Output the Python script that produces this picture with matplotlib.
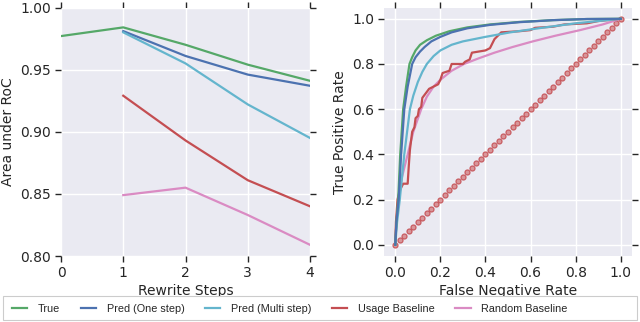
import numpy as np
import matplotlib
matplotlib.use('Agg')
import matplotlib.pyplot as plt
from matplotlib.patches import Rectangle

# seaborn-ish darkgrid look, done by hand
plt.rcParams['font.family'] = ['DejaVu Sans']
plt.rcParams['axes.facecolor'] = '#EAEAF2'
plt.rcParams['axes.edgecolor'] = 'white'
plt.rcParams['axes.linewidth'] = 0
plt.rcParams['grid.color'] = 'white'
plt.rcParams['grid.linewidth'] = 1.0
plt.rcParams['text.color'] = '#262626'
plt.rcParams['axes.labelcolor'] = '#262626'
plt.rcParams['xtick.color'] = '#262626'
plt.rcParams['ytick.color'] = '#262626'

# ---- data: left panel (AUC vs rewrite steps)
steps_true = [0, 1, 2, 3, 4]
auc_true = [0.977, 0.984, 0.970, 0.954, 0.941]
steps = [1, 2, 3, 4]
auc_pred_one = [0.981, 0.961, 0.946, 0.937]
auc_pred_multi = [0.980, 0.955, 0.922, 0.895]
auc_usage = [0.929, 0.893, 0.861, 0.840]
auc_random = [0.849, 0.855, 0.833, 0.809]

# ---- data: right panel (ROC curves)
fpr_true = [0, 0.005, 0.013, 0.022, 0.035, 0.048, 0.063, 0.075, 0.09, 0.11, 0.14, 0.18, 0.24, 0.32, 0.42, 0.55, 0.7, 0.85, 1.0]
tpr_true = [0, 0.1, 0.2, 0.4, 0.6, 0.7, 0.8, 0.83, 0.86, 0.885, 0.905, 0.925, 0.945, 0.962, 0.975, 0.986, 0.994, 0.999, 1.0]
fpr_one = [0, 0.005, 0.015, 0.026, 0.04, 0.055, 0.075, 0.09, 0.11, 0.13, 0.16, 0.2, 0.25, 0.32, 0.42, 0.55, 0.7, 0.85, 1.0]
tpr_one = [0, 0.1, 0.2, 0.4, 0.6, 0.7, 0.8, 0.83, 0.855, 0.875, 0.9, 0.92, 0.94, 0.958, 0.973, 0.985, 0.994, 0.999, 1.0]
fpr_multi = [0, 0.008, 0.02, 0.04, 0.065, 0.08, 0.1, 0.12, 0.14, 0.17, 0.2, 0.25, 0.3, 0.4, 0.51, 0.65, 0.8, 0.9, 1.0]
tpr_multi = [0, 0.1, 0.2, 0.4, 0.6, 0.66, 0.72, 0.765, 0.8, 0.835, 0.86, 0.885, 0.9, 0.92, 0.94, 0.96, 0.98, 0.99, 1.0]
fpr_usage = [0, 0.003, 0.01, 0.02, 0.035, 0.055, 0.06, 0.065, 0.075, 0.085, 0.09, 0.1, 0.105, 0.115,
             0.12, 0.135, 0.15, 0.17, 0.19, 0.2, 0.21, 0.24, 0.25, 0.3, 0.31, 0.33, 0.34, 0.4, 0.42,
             0.43, 0.44, 0.46, 0.47, 0.55, 0.6, 0.62, 0.7, 0.75, 0.85, 0.9, 1.0]
tpr_usage = [0, 0.1, 0.2, 0.24, 0.27, 0.27, 0.35, 0.42, 0.5, 0.52, 0.56, 0.57, 0.6, 0.61,
             0.65, 0.67, 0.69, 0.7, 0.71, 0.73, 0.76, 0.77, 0.8, 0.8, 0.81, 0.82, 0.85, 0.86, 0.87,
             0.89, 0.91, 0.93, 0.94, 0.945, 0.95, 0.96, 0.965, 0.975, 0.98, 0.99, 1.0]
fpr_random = [0, 0.005, 0.015, 0.03, 0.055, 0.08, 0.115, 0.14, 0.17, 0.2, 0.25, 0.305, 0.37, 0.44, 0.52, 0.61, 0.71, 0.82, 0.92, 1.0]
tpr_random = [0, 0.1, 0.2, 0.3, 0.4, 0.5, 0.6, 0.655, 0.7, 0.73, 0.77, 0.8, 0.825, 0.85, 0.875, 0.9, 0.925, 0.95, 0.975, 1.0]
chance = np.linspace(0, 1, 51)  # y = x reference

labels = ['True', 'Pred (One step)', 'Pred (Multi step)', 'Usage Baseline', 'Random Baseline']
colors = ['#55A868', '#4C72B0', '#64B5CD', '#C44E52', '#DA8BC3']

fig = plt.figure(figsize=(6.4, 3.22), dpi=100)
ax1 = fig.add_axes([61/640, 1-256/322, (310-61)/640, (256-7.5)/322])
ax2 = fig.add_axes([384/640, 1-256/322, (632-384)/640, (256-7.5)/322])

lw = 1.6
ax1.plot(steps_true, auc_true, color=colors[0], lw=lw, label=labels[0])
ax1.plot(steps, auc_pred_one, color=colors[1], lw=lw, label=labels[1])
ax1.plot(steps, auc_pred_multi, color=colors[2], lw=lw, label=labels[2])
ax1.plot(steps, auc_usage, color=colors[3], lw=lw, label=labels[3])
ax1.plot(steps, auc_random, color=colors[4], lw=lw, label=labels[4])
ax1.set_xlim(0, 4)
ax1.set_ylim(0.80, 1.00)
ax1.set_xticks([0, 1, 2, 3, 4])
ax1.set_yticks([0.80, 0.85, 0.90, 0.95, 1.00])
ax1.set_yticklabels(['%.2f' % v for v in [0.80, 0.85, 0.90, 0.95, 1.00]])
ax1.set_xlabel('Rewrite Steps', fontsize=10, labelpad=3)
ax1.set_ylabel('Area under RoC', fontsize=10, labelpad=4)

ax2.plot(chance, chance, linestyle='none', marker='o', markersize=3.6, markerfacecolor='#D7868A',
         markeredgecolor='#C44E52', markeredgewidth=0.9, alpha=0.85, zorder=1)
ax2.plot(fpr_random, tpr_random, color=colors[4], lw=lw, zorder=2)
ax2.plot(fpr_usage, tpr_usage, color=colors[3], lw=lw, zorder=3)
ax2.plot(fpr_multi, tpr_multi, color=colors[2], lw=lw, zorder=4)
ax2.plot(fpr_true, tpr_true, color=colors[0], lw=lw, zorder=5)
ax2.plot(fpr_one, tpr_one, color=colors[1], lw=lw, zorder=6)
ax2.set_xlim(-0.05, 1.05)
ax2.set_ylim(-0.05, 1.05)
ax2.set_xticks([0, 0.2, 0.4, 0.6, 0.8, 1.0])
ax2.set_yticks([0, 0.2, 0.4, 0.6, 0.8, 1.0])
ax2.set_xlabel('False Negative Rate', fontsize=10, labelpad=3)
ax2.set_ylabel('True Positive Rate', fontsize=10, labelpad=4)

for ax in (ax1, ax2):
    ax.grid(True)
    ax.set_axisbelow(True)
    for s in ax.spines.values():
        s.set_visible(False)
    ax.tick_params(axis='both', which='major', direction='out', length=4, width=1,
                   labelsize=10, top=True, right=True, pad=3)

# legend frame spans the whole width, entries sit to the left
fig.patches.append(Rectangle((3/640, 2/322), 634/640, 24/322, transform=fig.transFigure,
                             facecolor='white', edgecolor='#cccccc', linewidth=0.8, zorder=0))
handles, _ = ax1.get_legend_handles_labels()
leg = fig.legend(handles, labels, loc='center left', ncol=5,
                 bbox_to_anchor=(12/640, 13/322), frameon=False,
                 prop={'family': 'Liberation Sans', 'size': 7.8},
                 handlelength=1.4, handletextpad=1.0, columnspacing=1.9,
                 borderaxespad=0, borderpad=0)

fig.savefig('out.png', dpi=100)
